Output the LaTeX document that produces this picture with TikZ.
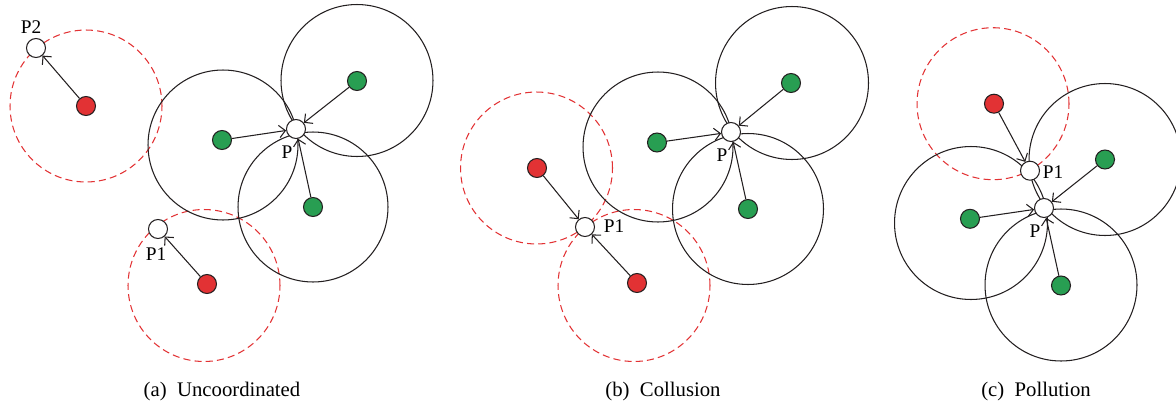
\documentclass[tikz,border=0pt]{standalone}
\usepackage{fontspec}
\setmainfont{Liberation Serif}
\usetikzlibrary{arrows.meta}

\definecolor{atkred}{RGB}{226,50,52}
\definecolor{okgreen}{RGB}{40,158,82}
\definecolor{ink}{RGB}{35,31,32}

\tikzset{
  >={Straight Barb[length=3.5pt,width=7pt]},
  dot/.style={circle,draw=ink,line width=0.6pt,minimum size=0.38cm,inner sep=0pt},
  bad/.style={dot,fill=atkred},
  good/.style={dot,fill=okgreen},
  spot/.style={dot,fill=white},
  reach/.style={draw=ink,line width=0.6pt},
  badreach/.style={draw=atkred,line width=0.6pt,dash pattern=on 4pt off 2.4pt},
  move/.style={->,draw=ink,line width=0.6pt},
  tag/.style={font=\fontsize{11}{13}\selectfont,inner sep=0pt},
  caption/.style={font=\fontsize{11.8}{14}\selectfont,inner sep=0pt}
}

\begin{document}
\begin{tikzpicture}[x=0.02cm,y=-0.02cm]
\useasboundingbox (0,0) rectangle (1176,406);

% (a) uncoordinated
\draw [badreach] (86,106) circle (1.52cm);
\draw [badreach] (204,285.5) circle (1.52cm);
\draw [reach] (223,145) circle (1.5cm);
\draw [reach] (357,80.5) circle (1.52cm);
\draw [reach] (313,207) circle (1.5cm);
\node [spot] (pa) at (296,129) {};
\node [spot] (pa1) at (158,229) {};
\node [spot] (pa2) at (36,48) {};
\node [bad] (ra1) at (86,106) {};
\node [bad] (ra2) at (207,284) {};
\node [good] (ga1) at (222,140) {};
\node [good] (ga2) at (357,81) {};
\node [good] (ga3) at (313,207) {};
\foreach \g in {ga1,ga2,ga3}
	\draw [move] (\g) -- (pa);
\draw [move] (ra1) -- (pa2);
\draw [move] (ra2) -- (pa1);
\node [tag] (la) at (287,152) {P};
\node [tag] (la1) at (156,254) {P1};
\node [tag] (la2) at (31,27) {P2};
\node [caption] (capa) at (222,392) {(a)\ \ Uncoordinated};

% (b) collusion
\draw [badreach] (536.5,168) circle (1.52cm);
\draw [badreach] (634,285.5) circle (1.52cm);
\draw [reach] (658,147) circle (1.5cm);
\draw [reach] (792,83) circle (1.53cm);
\draw [reach] (748,209) circle (1.51cm);
\node [spot] (pb) at (731,132) {};
\node [spot] (pb1) at (585,227) {};
\node [bad] (rb1) at (537,168) {};
\node [bad] (rb2) at (637,283) {};
\node [good] (gb1) at (657,142.5) {};
\node [good] (gb2) at (791,83) {};
\node [good] (gb3) at (748,209) {};
\foreach \g in {gb1,gb2,gb3}
	\draw [move] (\g) -- (pb);
\foreach \r in {rb1,rb2}
	\draw [move] (\r) -- (pb1);
\node [tag] (lb) at (722,155) {P};
\node [tag] (lb1) at (614,226) {P1};
\node [caption] (capb) at (663,392) {(b)\ \ Collusion};

% (c) pollution
\draw [badreach] (993,103.7) circle (1.52cm);
\draw [reach] (1105,159.5) circle (1.52cm);
\draw [reach] (971,223) circle (1.53cm);
\draw [reach] (1061,285) circle (1.52cm);
\node [spot] (pc) at (1044,208) {};
\node [spot] (pc1) at (1030,170.7) {};
\node [bad] (rc) at (994,103.7) {};
\node [good] (gc1) at (1105,159.5) {};
\node [good] (gc2) at (970,218.8) {};
\node [good] (gc3) at (1061,285.5) {};
\foreach \g in {gc1,gc2,gc3}
	\draw [move] (\g) -- (pc);
\draw [move] (rc) -- (pc1);
\node [tag] (lc) at (1035,231) {P};
\node [tag] (lc1) at (1053,171.7) {P1};
\node [caption] (capc) at (1036,392) {(c)\ \ Pollution};
\end{tikzpicture}
\end{document}
